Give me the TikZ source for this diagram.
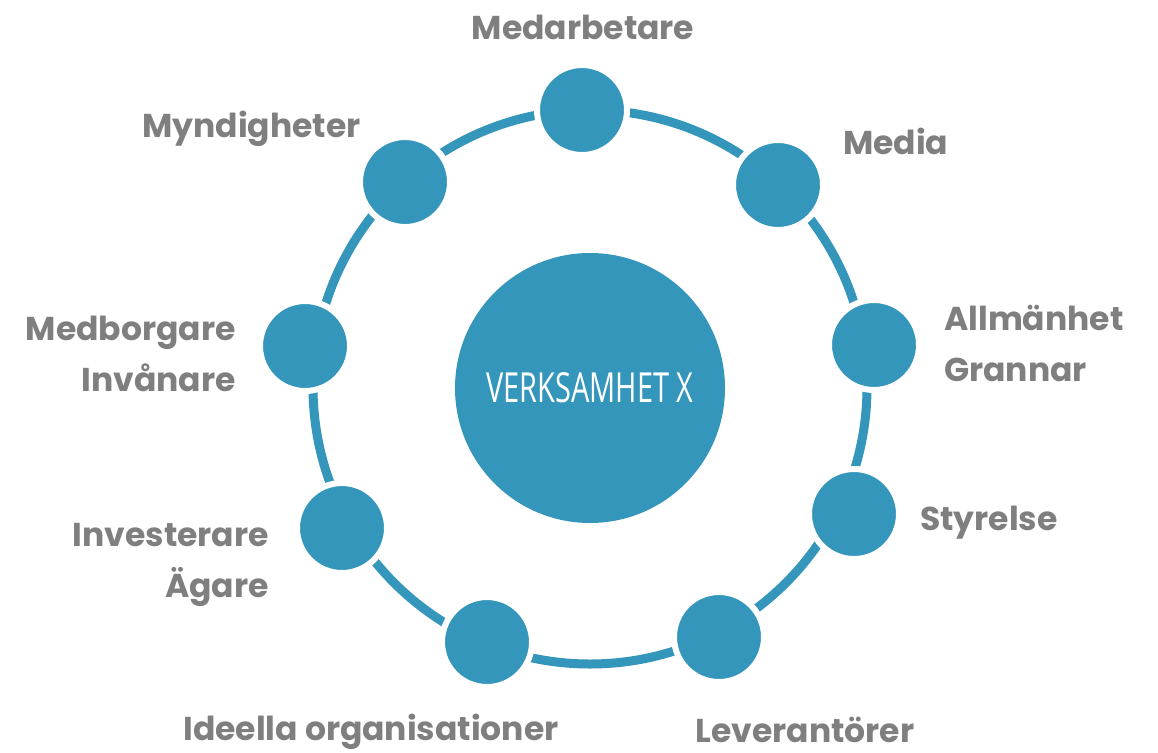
\documentclass[tikz,border=0pt]{standalone}
\usepackage{fontspec}
\newfontfamily\labfont{Poppins}
\newfontfamily\ctrfont{Open Sans}
\definecolor{ringblue}{RGB}{53,150,188}
\definecolor{labgrey}{RGB}{127,127,127}
\tikzset{
  ringline/.style={draw=ringblue, line width=9pt},
  smallc/.style={circle, fill=ringblue, draw=white, line width=6pt, minimum size=90pt, inner sep=0pt},
  bigc/.style={circle, fill=ringblue, inner sep=0pt, minimum size=270pt, text=white},
  lab/.style={text=labgrey, inner sep=0pt, font=\labfont\bfseries\fontsize{33}{51}\selectfont},
}
\begin{document}
\begin{tikzpicture}[x=1pt,y=-1pt]
\useasboundingbox[fill=white] (0,0) rectangle (1158,752);
\draw[ringline] (590,387) circle[radius=277];
\node[bigc] (center) at (590,388) {\resizebox{207pt}{30pt}{\ctrfont VERKSAMHET X}};
\node[smallc] (c1) at (582,110) {};
\node[smallc] (c2) at (778,185) {};
\node[smallc] (c3) at (874,345) {};
\node[smallc] (c4) at (854,514) {};
\node[smallc] (c5) at (719,637) {};
\node[smallc] (c6) at (487,642) {};
\node[smallc] (c7) at (342,528) {};
\node[smallc] (c8) at (305,346) {};
\node[smallc] (c9) at (405,182) {};
\node[lab, anchor=base] (l1) at (583,40) {Medarbetare};
\node[lab, anchor=base west] (l2) at (843,154) {Media};
\node[lab, anchor=base west, align=left] (l3) at (944,381) {Allmänhet\\Grannar};
\node[lab, anchor=base west] (l4) at (920,530) {Styrelse};
\node[lab, anchor=base] (l5) at (805,742) {Leverantörer};
\node[lab, anchor=base] (l6) at (371,740) {Ideella organisationer};
\node[lab, anchor=base east, align=right] (l7) at (269,597) {Investerare\\Ägare};
\node[lab, anchor=base east, align=right] (l8) at (236,391) {Medborgare\\Invånare};
\node[lab, anchor=base east] (l9) at (361,137) {Myndigheter};
\end{tikzpicture}
\end{document}
